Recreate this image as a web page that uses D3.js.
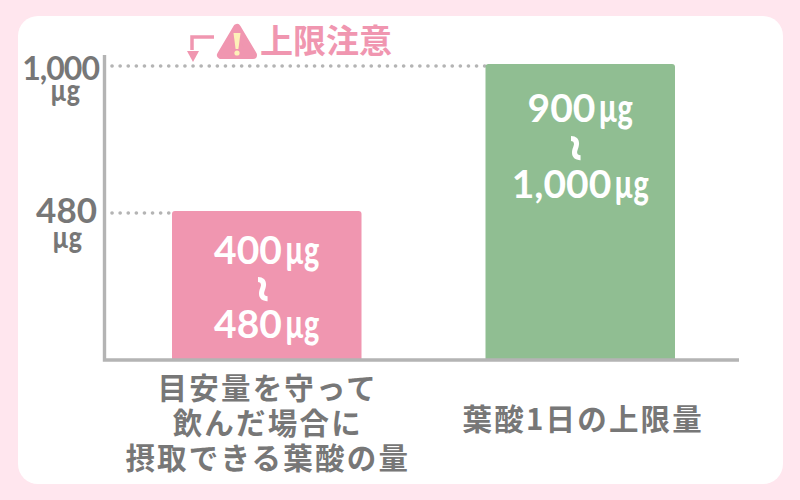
<!DOCTYPE html>
<html>
<head>
<meta charset="utf-8">
<script src="https://cdn.jsdelivr.net/npm/d3@7"></script>
<style>
  html, body { margin: 0; padding: 0; background: #ffe6ee; }
  svg { display: block; }
  text { font-family: "Noto Sans CJK JP", sans-serif; font-weight: 700; }
  .num { font-family: Lato, sans-serif; font-weight: 700; }
  .unit { font-family: Lato, sans-serif; font-weight: 900; }
</style>
</head>
<body>
<svg id="chart" width="800" height="500"></svg>
<script>
const categories = [
  ["目安量を守って", "飲んだ場合に", "摂取できる葉酸の量"],
  ["葉酸1日の上限量"],
];
const lowValues = [400, 900];
const highValues = [480, 1000];
const barColors = ["#f096b0", "#90be92"];
const tickValues = [1000, 480];
const unit = "µg";
const warningText = "上限注意";

const svg = d3.select("#chart");
const pink = "#f096b0";
const gray = "#777777";
const axisGray = "#b4b4b4";

svg.append("rect").attr("width", 800).attr("height", 500).attr("fill", "#ffe6ee");
svg.append("rect")
  .attr("x", 18).attr("y", 16)
  .attr("width", 765).attr("height", 468)
  .attr("rx", 20)
  .attr("fill", "#ffffff");

const x = d3.scaleBand().domain(d3.range(categories.length)).range([172, 675]).paddingInner(0.3955);
// the picture is not drawn to scale, so the axis has a break between the ticks
const y = d3.scaleLinear().domain([0, 480, 1000]).range([360, 211, 64]);
const fmt = d3.format(",");

// dotted guide lines
svg.selectAll(".guide")
  .data(tickValues)
  .join("line")
  .attr("class", "guide")
  .attr("x1", 112)
  .attr("x2", (d) => (d === 1000 ? 485 : 186))
  .attr("y1", (d) => y(d) + 2)
  .attr("y2", (d) => y(d) + 2)
  .attr("stroke", axisGray)
  .attr("stroke-width", 3.6)
  .attr("stroke-linecap", "round")
  .attr("stroke-dasharray", "0.1 8");

// bars
svg.selectAll(".bar")
  .data(highValues)
  .join("path")
  .attr("class", "bar")
  .attr("fill", (d, i) => barColors[i])
  .attr("d", (d, i) => {
    const x0 = x(i), x1 = x(i) + x.bandwidth(), top = y(d), bot = y(0), r = 3;
    return `M${x0},${bot}V${top + r}Q${x0},${top} ${x0 + r},${top}H${x1 - r}Q${x1},${top} ${x1},${top + r}V${bot}Z`;
  });

// axis lines
svg.append("path")
  .attr("d", `M104.5,55V360H739`)
  .attr("fill", "none")
  .attr("stroke", axisGray)
  .attr("stroke-width", 3.4);

// y tick labels
const tickG = svg.selectAll(".tick-label").data(tickValues).join("g").attr("class", "tick-label");
tickG.append("text")
  .attr("class", "num")
  .attr("x", (d) => (d === 1000 ? 99 : 97))
  .attr("y", (d) => y(d) + (d === 1000 ? 16 : 12))
  .attr("text-anchor", "end")
  .attr("font-size", (d) => (d === 1000 ? 32 : 35))
  .attr("fill", gray)
  .attr("letter-spacing", (d) => (d === 1000 ? -1 : 0))
  .text((d) => fmt(d));
tickG.append("text")
  .attr("class", "unit")
  .attr("transform", (d) => `translate(${d === 1000 ? 65 : 67},${y(d) + 37}) scale(0.83,1)`)
  .attr("text-anchor", "middle")
  .attr("font-size", 30)
  .attr("fill", gray)
  .text(unit);

// labels inside the bars: the unit is a narrower face, so it is squeezed beside the number
function barLabel(i, value, cy) {
  const cx = x(i) + x.bandwidth() / 2;
  const num = svg.append("text")
    .attr("class", "num")
    .attr("y", cy)
    .attr("fill", "#ffffff")
    .attr("font-size", 39)
    .text(fmt(value));
  const u = svg.append("text")
    .attr("class", "unit")
    .attr("fill", "#ffffff")
    .attr("font-size", 40)
    .text(unit);
  const numW = num.node().getComputedTextLength();
  const unitW = u.node().getComputedTextLength() * 0.72;
  const left = cx - (numW + 3 + unitW) / 2;
  num.attr("x", left);
  u.attr("transform", `translate(${left + numW + 3},${cy}) scale(0.72,1)`);
}
function tilde(i, cy) {
  const cx = x(i) + x.bandwidth() / 2;
  svg.append("text")
    .attr("class", "num")
    .attr("transform", `translate(${cx},${cy}) rotate(90)`)
    .attr("text-anchor", "middle")
    .attr("dominant-baseline", "central")
    .attr("fill", "#ffffff")
    .attr("font-size", 50)
    .text("~");
}
const labelY = [[264, 338], [122, 198]];
lowValues.forEach((v, i) => {
  barLabel(i, v, labelY[i][0]);
  tilde(i, (labelY[i][0] + labelY[i][1]) / 2 - 12);
  barLabel(i, highValues[i], labelY[i][1]);
});

// category labels
const catY = [[399, 434, 469], [430]];
categories.forEach((lines, i) => {
  lines.forEach((line, k) => {
    svg.append("text")
      .attr("x", x(i) + x.bandwidth() / 2 + (i === 0 ? 1 : 3))
      .attr("y", catY[i][k])
      .attr("text-anchor", "middle")
      .attr("font-size", 29.5)
      .attr("letter-spacing", 2.2)
      .attr("fill", gray)
      .text(line);
  });
});

// warning marker
svg.append("path")
  .attr("d", "M214,37H192V50")
  .attr("fill", "none")
  .attr("stroke", pink)
  .attr("stroke-width", 3.5);
svg.append("path")
  .attr("d", "M187,51H199L193,62Z")
  .attr("fill", pink);
svg.append("path")
  .attr("d", "M237,28L221,55H253Z")
  .attr("fill", pink)
  .attr("stroke", pink)
  .attr("stroke-width", 8)
  .attr("stroke-linejoin", "round");
svg.append("path")
  .attr("d", "M233.5,33H240.5L238.4,49H235.6Z")
  .attr("fill", "#fdf0b8");
svg.append("circle")
  .attr("cx", 237).attr("cy", 53).attr("r", 2.6)
  .attr("fill", "#fdf0b8");
svg.append("text")
  .attr("x", 260)
  .attr("y", 53)
  .attr("font-size", 33)
  .attr("fill", pink)
  .text(warningText);
</script>
</body>
</html>
